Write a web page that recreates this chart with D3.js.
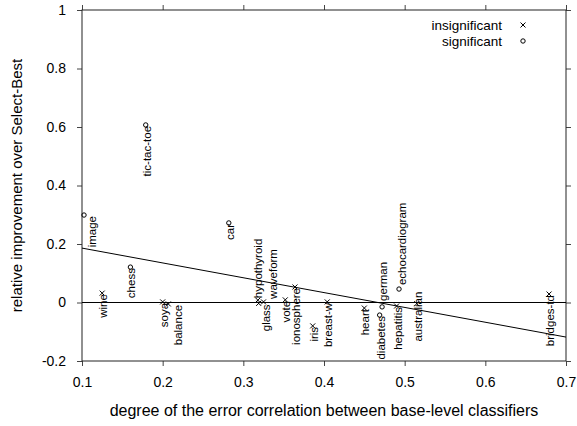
<!DOCTYPE html>
<html>
<head>
<meta charset="utf-8">
<script src="https://cdn.jsdelivr.net/npm/d3@7"></script>
<style>
  body { margin: 0; background: #fff; }
  text { font-family: "Liberation Sans", Arial, sans-serif; fill: #000; }
</style>
</head>
<body>
<svg></svg>
<script>
var w = 577, h = 426;
var margin = { left: 82, right: 11, top: 10, bottom: 65 };

// datasets
var names = ["image", "tic-tac-toe", "chess", "car", "wine", "soya", "balance",
  "glass", "hypothyroid", "waveform", "vote", "ionosphere", "iris", "breast-w",
  "heart", "diabetes", "german", "hepatitis", "echocardiogram", "australian", "bridges-td"];
// degree of error correlation
var correlation = [0.1025, 0.179, 0.160, 0.282, 0.125, 0.200, 0.207,
  0.319, 0.318, 0.325, 0.352, 0.364, 0.386, 0.404,
  0.450, 0.469, 0.472, 0.490, 0.493, 0.515, 0.679];
// relative improvement
var improvement = [0.299, 0.607, 0.121, 0.272, 0.032, 0.002, -0.005,
  -0.003, 0.008, 0.002, 0.009, 0.053, -0.08, 0.002,
  -0.019, -0.043, -0.015, -0.012, 0.046, -0.004, 0.029];
var significant = [1, 1, 1, 1, 0, 0, 0,
  0, 0, 0, 0, 0, 0, 0,
  0, 1, 1, 0, 1, 0, 0];

// fitted line: y = a + b*x
var fitA = 0.2367, fitB = -0.507;

var xTicks = [0.1, 0.2, 0.3, 0.4, 0.5, 0.6, 0.7];
var yTicks = [-0.2, 0, 0.2, 0.4, 0.6, 0.8, 1];
var legendLabels = ["insignificant", "significant"];

// label placement: [anchor, dx, gap]
var labelPlace = {
  "image": ["end", 8, 1],
  "balance": ["end", 10, 1],
  "glass": ["end", 7, 1],
  "hypothyroid": ["start", 0, 2],
  "waveform": ["start", 9, 3],
  "german": ["start", 1, 6],
  "echocardiogram": ["start", 3, 4],
  "australian": ["end", 1, -12]
};

var data = names.map(function(n, i) {
  return { name: n, x: correlation[i], y: improvement[i], sig: significant[i] };
});

var svg = d3.select("svg").attr("width", w).attr("height", h);

var xScale = d3.scaleLinear().domain([0.1, 0.7]).range([margin.left, w - margin.right]);
var yScale = d3.scaleLinear().domain([-0.2, 1]).range([h - margin.bottom, margin.top]);
var fmt = function(d) { return String(Math.round(d * 10) / 10); };

// axes, ticks pointing out on all sides
function styleAxis(g) {
  g.select(".domain").remove();
  g.selectAll(".tick line").attr("stroke", "#444");
  g.selectAll(".tick text").style("font-size", "14px").attr("fill", "#000");
}
svg.append("g")
  .attr("transform", "translate(0," + (h - margin.bottom) + ")")
  .call(d3.axisBottom(xScale).tickValues(xTicks).tickFormat(fmt).tickSize(5).tickPadding(11))
  .call(styleAxis);
svg.append("g")
  .attr("transform", "translate(0," + margin.top + ")")
  .call(d3.axisTop(xScale).tickValues(xTicks).tickFormat("").tickSize(5))
  .call(styleAxis);
svg.append("g")
  .attr("transform", "translate(" + margin.left + ",0)")
  .call(d3.axisLeft(yScale).tickValues(yTicks).tickFormat(fmt).tickSize(5).tickPadding(11))
  .call(styleAxis);
svg.append("g")
  .attr("transform", "translate(" + (w - margin.right) + ",0)")
  .call(d3.axisRight(yScale).tickValues(yTicks).tickFormat("").tickSize(5))
  .call(styleAxis);

// border
svg.append("rect")
  .attr("x", xScale(0.1)).attr("y", yScale(1))
  .attr("width", xScale(0.7) - xScale(0.1))
  .attr("height", yScale(-0.2) - yScale(1))
  .attr("fill", "none").attr("stroke", "#222").attr("stroke-width", 1);

// zero line
svg.append("line")
  .attr("x1", xScale(0.1)).attr("x2", xScale(0.7))
  .attr("y1", yScale(0)).attr("y2", yScale(0))
  .attr("stroke", "#000");

// fit line
svg.append("line")
  .attr("x1", xScale(0.1)).attr("y1", yScale(fitA + fitB * 0.1))
  .attr("x2", xScale(0.7)).attr("y2", yScale(fitA + fitB * 0.7))
  .attr("stroke", "#000");

// markers
function drawCross(g, s) {
  g.append("path")
    .attr("d", "M" + (-s) + "," + (-s) + "L" + s + "," + s + "M" + (-s) + "," + s + "L" + s + "," + (-s))
    .attr("stroke", "#000").attr("stroke-width", 1).attr("fill", "none");
}
function drawCircle(g, r) {
  g.append("circle").attr("r", r)
    .attr("stroke", "#000").attr("stroke-width", 1).attr("fill", "none");
}

var pts = svg.append("g").selectAll("g")
  .data(data)
  .join("g")
  .attr("transform", function(d) { return "translate(" + xScale(d.x) + "," + yScale(d.y) + ")"; });
pts.each(function(d) {
  var g = d3.select(this);
  if (d.sig) drawCircle(g, 2.2); else drawCross(g, 2.5);
});

// labels, rotated
svg.append("g").selectAll("text")
  .data(data)
  .join("text")
  .attr("transform", function(d) {
    var p = labelPlace[d.name] || ["end", 1, 1];
    return "translate(" + (xScale(d.x) + p[1]) + "," + yScale(d.y) + ") rotate(-90)";
  })
  .attr("x", function(d) {
    var p = labelPlace[d.name] || ["end", 1, 1];
    return p[0] == "end" ? -p[2] : p[2];
  })
  .attr("dy", "0.35em")
  .attr("text-anchor", function(d) { return (labelPlace[d.name] || ["end"])[0]; })
  .style("font-size", "11.5px")
  .text(function(d) { return d.name; });

// legend
var leg = svg.append("g");
legendLabels.forEach(function(l, i) {
  var y = 25 + i * 16;
  leg.append("text")
    .attr("x", 502).attr("y", y).attr("dy", "0.35em")
    .attr("text-anchor", "end")
    .style("font-size", "13.5px")
    .text(l);
  var m = leg.append("g").attr("transform", "translate(523," + y + ")");
  if (i == 0) drawCross(m, 2.5); else drawCircle(m, 2.2);
});

// axis titles
svg.append("text")
  .attr("x", (xScale(0.1) + xScale(0.7)) / 2)
  .attr("y", 416)
  .attr("text-anchor", "middle")
  .style("font-size", "16px")
  .text("degree of the error correlation between base-level classifiers");

svg.append("text")
  .attr("transform", "translate(22," + ((yScale(1) + yScale(-0.2)) / 2) + ") rotate(-90)")
  .attr("text-anchor", "middle")
  .style("font-size", "15px")
  .text("relative improvement over Select-Best");
</script>
</body>
</html>
